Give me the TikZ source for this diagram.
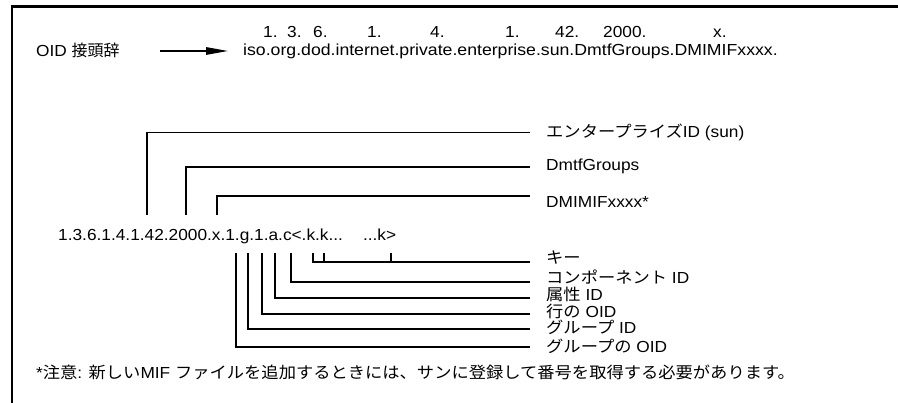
\documentclass[tikz,border=0pt]{standalone}
\usepackage{fontspec}
\setmainfont{Liberation Sans}[FakeStretch=1.08]
\newfontfamily\widefont{Liberation Sans}[FakeStretch=1.105]
\newfontfamily\jp{Noto Sans CJK JP}[FakeStretch=1.08]
\newfontfamily\jpn{Noto Sans CJK JP}
\usetikzlibrary{arrows.meta}
\begin{document}
\begin{tikzpicture}[x=1pt,y=-1pt,
  txt/.style={inner sep=0pt, anchor=base west, font=\fontsize{16}{19}\selectfont},
  conn/.style={line width=1.4pt},
  framestyle/.style={line width=2.2pt}]
\useasboundingbox (0,0) rectangle (898,403);
% frame
\draw[framestyle] (12,403) -- (12,6.5) -- (898,6.5);

% header
\node[txt] (prefix) at (36,57) {OID {\jpn\fontsize{16}{19}\selectfont 接頭辞}};
\node[txt, font=\fontsize{16}{19}\widefont] (oidnames) at (243,56) {iso.org.dod.internet.private.enterprise.sun.DmtfGroups.DMIMIFxxxx.};
\coordinate (a1) at (160,51);
\coordinate (a2) at (228,51);
\draw[conn, -{Triangle[length=22pt,width=7.5pt]}] (a1) -- (a2);

\node[txt] (n1) at (263,37.5) {1.};
\node[txt] (n2) at (287,37.5) {3.};
\node[txt] (n3) at (313,37.5) {6.};
\node[txt] (n4) at (367,37.5) {1.};
\node[txt] (n5) at (430,37.5) {4.};
\node[txt] (n6) at (505,37.5) {1.};
\node[txt] (n7) at (555,37.5) {42.};
\node[txt] (n8) at (603,37.5) {2000.};
\node[txt] (n9) at (713,37.5) {x.};

% OID string
\node[txt] (oid) at (58,241) {1.3.6.1.4.1.42.2000.x.1.g.1.a.c<.k.k...\hspace{20pt}...k>};

% upper brackets
\coordinate (t1) at (147,215);
\coordinate (t2) at (186,215);
\coordinate (t3) at (217,215);
\coordinate (e1) at (530,132.7);
\coordinate (e2) at (530,167);
\coordinate (e3) at (530,196);
\draw[conn] (t1) |- (e1);
\draw[conn] (t2) |- (e2);
\draw[conn] (t3) |- (e3);
\node[txt] (l1) at (546,138) {{\jp エンタープライズ}ID (sun)};
\node[txt] (l2) at (546,171) {DmtfGroups};
\node[txt] (l3) at (546,208) {DMIMIFxxxx*};

% lower brackets
\coordinate (k1) at (313,253);
\coordinate (k2) at (324,253);
\coordinate (k3) at (391,253);
\coordinate (ek) at (530,262);
\draw[conn] (k1) |- (ek);
\draw[conn] (k2) -- (k2 |- ek);
\draw[conn] (k3) -- (k3 |- ek);

\coordinate (c1) at (291,253);
\coordinate (ec) at (530,282);
\draw[conn] (c1) |- (ec);
\coordinate (at1) at (275,253);
\coordinate (ea) at (530,298);
\draw[conn] (at1) |- (ea);
\coordinate (r1) at (262,253);
\coordinate (er) at (530,314);
\draw[conn] (r1) |- (er);
\coordinate (g1) at (248,253);
\coordinate (eg) at (530,329);
\draw[conn] (g1) |- (eg);
\coordinate (go1) at (236,253);
\coordinate (ego) at (530,347);
\draw[conn] (go1) |- (ego);

\node[txt] (lk) at (546,264) {{\jp キー}};
\node[txt] (lc) at (546,284) {{\jp コンポーネント} ID};
\node[txt] (la) at (546,301) {{\jp 属性} ID};
\node[txt] (lr) at (546,317.5) {{\jp 行の} OID};
\node[txt] (lg) at (546,334) {{\jp グループ} ID};
\node[txt] (lgo) at (546,353) {{\jp グループの} OID};

% note
\node[txt] (note) at (36,379) {*{\jp 注意}: {\jp 新しい}MIF {\jp ファイルを追加するときには、サンに登録して番号を取得する必要があります。}};
\end{tikzpicture}
\end{document}
